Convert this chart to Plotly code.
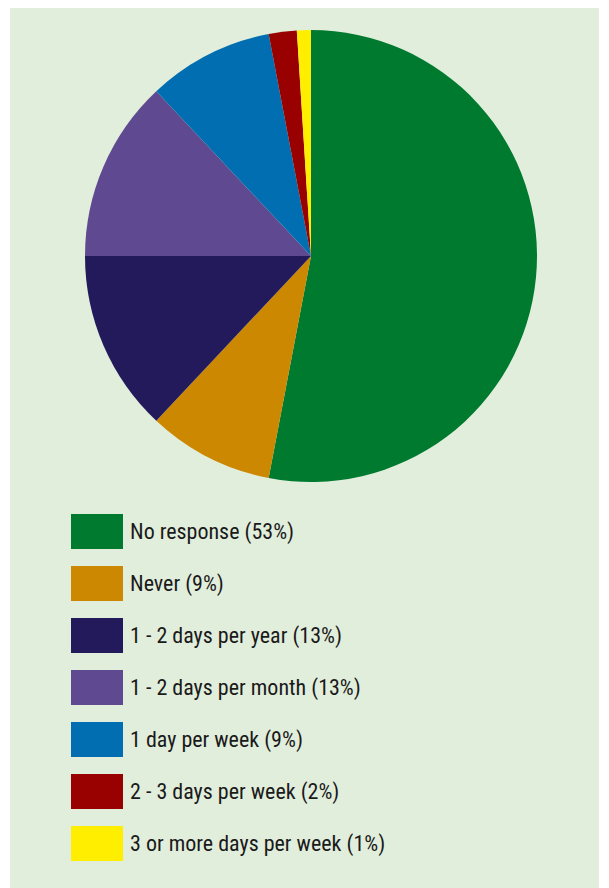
import plotly.graph_objects as go

# === Data ===
labels = [
    "No response (53%)",
    "Never (9%)",
    "1 - 2 days per year (13%)",
    "1 - 2 days per month (13%)",
    "1 day per week (9%)",
    "2 - 3 days per week (2%)",
    "3 or more days per week (1%)",
]
values = [53, 9, 13, 13, 9, 2, 1]
colors = ["#007a2f", "#cc8800", "#231a5c", "#5f4990", "#006eb0", "#990000", "#ffee00"]

W, H = 609, 888
OFF = 8  # page body margin

fig = go.Figure()

fig.add_trace(go.Pie(
    labels=labels,
    values=values,
    sort=False,
    direction="clockwise",
    rotation=0,
    marker=dict(colors=colors, line=dict(width=0)),
    textinfo="none",
    hoverinfo="label",
    showlegend=False,
    domain=dict(x=[(85 - OFF) / W, (537 - OFF) / W], y=[1 - (482 - OFF) / H, 1 - (30 - OFF) / H]),
))

# light green panel
shapes = [dict(type="rect", xref="paper", yref="paper", layer="below",
               x0=(10 - OFF) / W, x1=(599 - OFF) / W, y0=0, y1=1,
               fillcolor="#e2eedc", line=dict(width=0))]
annotations = []

# legend: big colour blocks + labels
for i, (lab, col) in enumerate(zip(labels, colors)):
    top = 514 + i * 52 - OFF
    shapes.append(dict(type="rect", xref="paper", yref="paper",
                       x0=(71 - OFF) / W, x1=(123 - OFF) / W, y0=1 - (top + 35) / H, y1=1 - top / H,
                       fillcolor=col, line=dict(width=0)))
    annotations.append(dict(text=lab, xref="paper", yref="paper",
                            x=(128 - OFF) / W, y=1 - (top + 17.5) / H,
                            xanchor="left", yanchor="middle", showarrow=False,
                            font=dict(family="Roboto Condensed, Roboto, sans-serif",
                                      size=22, color="#1a1a1a")))

fig.update_layout(
    width=W, height=H,
    margin=dict(l=0, r=0, t=0, b=0),
    paper_bgcolor="white",
    shapes=shapes,
    annotations=annotations,
)

fig.write_html("out.html")
